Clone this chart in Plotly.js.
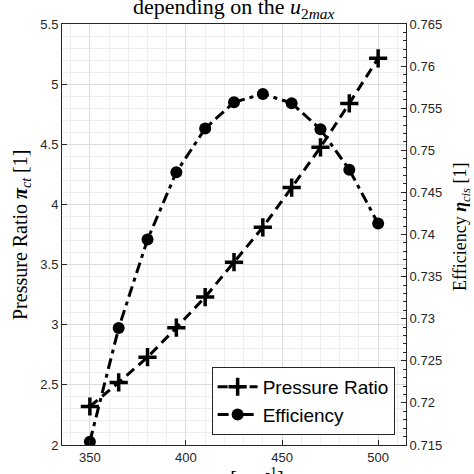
<!DOCTYPE html>
<html>
<head>
<meta charset="utf-8">
<script src="https://cdn.plot.ly/plotly-3.0.1.min.js"></script>
<style>html,body{margin:0;padding:0;background:#fff;}#plot{width:474px;height:474px;}</style>
</head>
<body>
<div id="plot"></div>
<script>
const speed = [350, 365, 380, 395, 410, 425, 440, 455, 470, 485, 500];
const pressureRatio = [2.32, 2.52, 2.73, 2.975, 3.23, 3.52, 3.81, 4.14, 4.475, 4.84, 5.215];
const efficiency = [0.7154, 0.7289, 0.7394, 0.7474, 0.7526, 0.7557, 0.7567, 0.7556, 0.7525, 0.7477, 0.7413];
const effTickVals = [0.715, 0.72, 0.725, 0.73, 0.735, 0.74, 0.745, 0.75, 0.755, 0.76, 0.765];
const effTickText = ['0.715', '0.72', '0.725', '0.73', '0.735', '0.74', '0.745', '0.75', '0.755', '0.76', '0.765'];

const axisColor = '#262626';
const serif = 'Liberation Serif, Times New Roman, serif';
const sans = 'Liberation Sans, Arial, sans-serif';

const traces = [
  {
    x: speed, y: pressureRatio, name: 'Pressure Ratio', type: 'scatter', mode: 'lines+markers',
    line: {color: '#000', width: 3, dash: '10px,6px'},
    marker: {symbol: 'cross-thin', size: 13, color: '#000', line: {color: '#000', width: 3.5}},
    yaxis: 'y'
  },
  {
    x: speed, y: efficiency, name: 'Efficiency', type: 'scatter', mode: 'lines+markers',
    line: {color: '#000', width: 3, dash: '11px,5px,4px,5px'},
    marker: {symbol: 'circle', size: 12, color: '#000'},
    yaxis: 'y2'
  }
];

const layout = {
  width: 474, height: 474,
  margin: {l: 62, r: 68, t: 24, b: 29, pad: 0},
  paper_bgcolor: '#fff', plot_bgcolor: '#fff',
  showlegend: true,
  legend: {
    x: 0.967, y: 0.024, xanchor: 'right', yanchor: 'bottom',
    bgcolor: '#fff', bordercolor: axisColor, borderwidth: 1,
    font: {family: sans, size: 19, color: '#000'},
    tracegroupgap: 0, itemwidth: 40
  },
  xaxis: {
    range: [335.5, 514.5], tickvals: [350, 400, 450, 500], ticktext: ['350', '400', '450', '500'],
    showline: true, linecolor: axisColor, linewidth: 1, mirror: true,
    ticks: 'inside', ticklen: 5, tickcolor: axisColor,
    showgrid: true, gridcolor: '#dcdcdc', gridwidth: 1, zeroline: false,
    minor: {dtick: 10, tick0: 0, showgrid: true, gridcolor: '#eeeeee', gridwidth: 1, ticks: ''},
    tickfont: {family: sans, size: 13, color: axisColor}
  },
  yaxis: {
    range: [2, 5.5], dtick: 0.5, tick0: 2,
    showline: true, linecolor: axisColor, linewidth: 1,
    ticks: 'inside', ticklen: 5, tickcolor: axisColor,
    showgrid: true, gridcolor: '#dcdcdc', gridwidth: 1, zeroline: false,
    minor: {dtick: 0.1, showgrid: true, gridcolor: '#eeeeee', gridwidth: 1, ticks: ''},
    tickfont: {family: sans, size: 13, color: axisColor}
  },
  yaxis2: {
    range: [0.715, 0.765], overlaying: 'y', side: 'right',
    tickvals: effTickVals, ticktext: effTickText,
    showline: true, linecolor: axisColor, linewidth: 1,
    ticks: 'inside', ticklen: 5, tickcolor: axisColor,
    minor: {dtick: 0.001, ticks: 'inside', ticklen: 3, tickcolor: axisColor, showgrid: false},
    showgrid: false, zeroline: false,
    tickfont: {family: sans, size: 13, color: axisColor}
  },
  annotations: [
    {
      text: 'depending on the <i>u</i><sub>2<i>max</i></sub>',
      xref: 'paper', yref: 'paper', x: 0.5, y: 1 + (24 - 24) / 421, xanchor: 'center', yanchor: 'bottom',
      showarrow: false, font: {family: serif, size: 22, color: '#000'}
    },
    {
      text: 'Pressure Ratio <b><i>π</i></b><sub><i>ct</i></sub> [1]',
      xref: 'paper', yref: 'paper', x: (21 - 62) / 344, y: (445 - 235) / 421, xanchor: 'center', yanchor: 'middle',
      textangle: -90, showarrow: false, font: {family: serif, size: 20, color: '#000'}
    },
    {
      text: 'Efficiency <b><i>η</i></b><sub><i>cis</i></sub> [1]',
      xref: 'paper', yref: 'paper', x: (461 - 62) / 344, y: (445 - 227) / 421, xanchor: 'center', yanchor: 'middle',
      textangle: -90, showarrow: false, font: {family: serif, size: 18, color: '#000'}
    },
    {
      text: '<i>u</i><sub>2<i>max</i></sub> [m s<sup>-1</sup>]',
      xref: 'paper', yref: 'paper', x: 0.5, y: (445 - 463) / 421, xanchor: 'center', yanchor: 'top',
      showarrow: false, font: {family: serif, size: 20, color: '#000'}
    }
  ]
};

Plotly.newPlot('plot', traces, layout, {staticPlot: true, displayModeBar: false});
</script>
</body>
</html>
